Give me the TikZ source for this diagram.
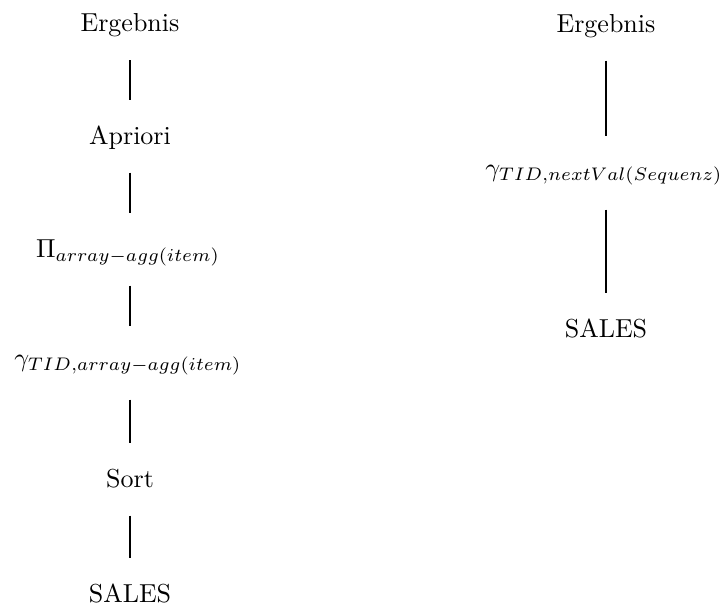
\documentclass[tikz,border=0pt]{standalone}
\begin{document}
\begin{tikzpicture}[x=0.3846pt,y=-0.3846pt,
  op/.style={anchor=base,inner xsep=0pt,inner ysep=8pt,text height=8.9pt,text depth=2.8pt},
  opsub/.style={op,text height=7pt,text depth=4.7pt},
  link/.style={line width=0.6pt}]
\useasboundingbox (0,0) rectangle (728,610);

% left plan
\node[op]    (e1) at (130,31.5) {Ergebnis};
\node[op]    (ap) at (130,144)  {Apriori};
\node[op]    (pi) at (128,257)  {$\Pi_{array-agg(item)}$};
\node[opsub] (g1) at (128,366)  {$\gamma_{TID,array-agg(item)}$};
\node[op]    (so) at (130,487)  {Sort};
\node[op]    (s1) at (130,602)  {SALES};

\draw[link] (e1) -- (ap);
\draw[link] (ap) -- (pi.north -| ap);
\draw[link] (pi.south -| ap) -- (g1.north -| ap);
\draw[link] (g1.south -| ap) -- (so);
\draw[link] (so) -- (s1);

% right plan
\node[op]    (e2) at (606,32)  {Ergebnis};
\node[opsub] (g2) at (604,176) {$\gamma_{TID,nextVal(Sequenz)}$};
\node[op]    (s2) at (606,337) {SALES};

\draw[link] (e2) -- (g2.north -| e2);
\draw[link] (g2.south -| e2) -- (s2);
\end{tikzpicture}
\end{document}
